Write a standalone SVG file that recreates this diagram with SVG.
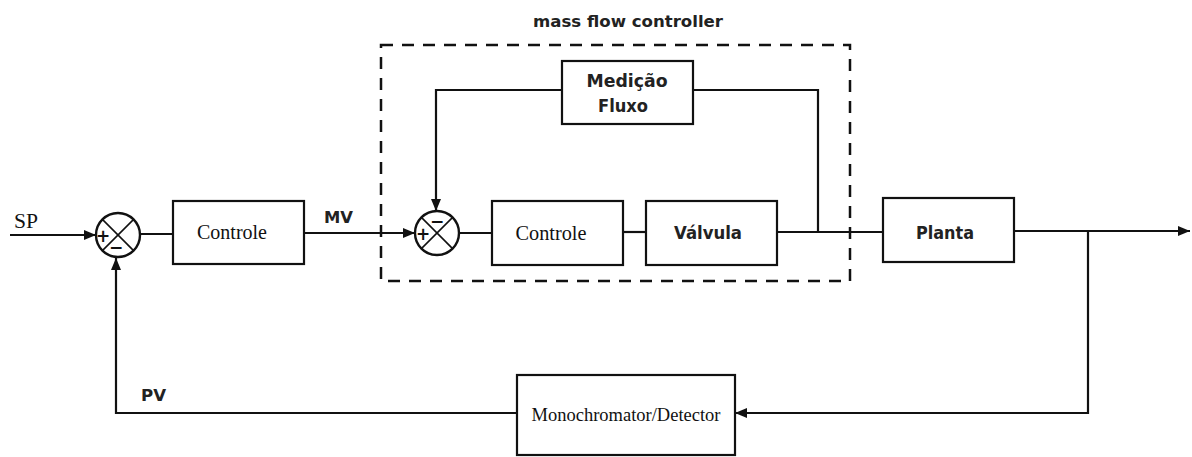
<svg xmlns="http://www.w3.org/2000/svg" width="1192" height="457" viewBox="0 0 1192 457">
<style>
.box{fill:#fff;stroke:#111;stroke-width:2.2}
.ln{fill:none;stroke:#111;stroke-width:2.2}
.sum{fill:#fff;stroke:#111;stroke-width:2.4}
.x{stroke:#111;stroke-width:1.6}
.serif{font-family:"Liberation Serif","Times New Roman",serif;fill:#111}
.sans{font-family:"DejaVu Sans","Verdana",sans-serif;font-weight:bold;fill:#222}
.sign{font-family:"DejaVu Sans",sans-serif;font-weight:bold;fill:#111;font-size:17px}
</style>
<defs>
<marker id="ah" markerWidth="12" markerHeight="10" refX="12" refY="5" orient="auto" markerUnits="userSpaceOnUse">
<path d="M0,0 L12,5 L0,10 Z" fill="#111"/>
</marker>
</defs>

<g id="mfc-boundary">
<rect x="381" y="45" width="469" height="236" fill="none" stroke="#111" stroke-width="2.5" stroke-dasharray="12 9"/>
<text class="sans" x="628" y="27" font-size="15.5" text-anchor="middle" textLength="190" lengthAdjust="spacingAndGlyphs">mass flow controller</text>
</g>

<g id="connectors">
<line class="ln" x1="10" y1="235" x2="96" y2="235" marker-end="url(#ah)"/>
<line class="ln" x1="140" y1="234" x2="173" y2="234"/>
<line class="ln" x1="304" y1="233" x2="415" y2="233" marker-end="url(#ah)"/>
<line class="ln" x1="459" y1="233" x2="492" y2="233"/>
<line class="ln" x1="623" y1="232" x2="646" y2="232"/>
<line class="ln" x1="777" y1="232" x2="883" y2="232"/>
<polyline class="ln" points="818,232 818,90 693,90"/>
<polyline class="ln" points="562,90 436,90 436,211" marker-end="url(#ah)"/>
<line class="ln" x1="1014" y1="231" x2="1190" y2="231" marker-end="url(#ah)"/>
<polyline class="ln" points="1088,231 1088,413 735,413" marker-end="url(#ah)"/>
<polyline class="ln" points="517,413 116,413 116,258" marker-end="url(#ah)"/>
<text class="serif" x="14" y="228" font-size="20" textLength="24" lengthAdjust="spacingAndGlyphs">SP</text>
<text class="sans" x="324" y="223" font-size="16" textLength="29" lengthAdjust="spacingAndGlyphs">MV</text>
<text class="sans" x="141" y="401" font-size="16" textLength="25" lengthAdjust="spacingAndGlyphs">PV</text>
</g>

<g id="sum1">
<circle class="sum" cx="118" cy="235" r="22"/>
<line class="x" x1="102.4" y1="219.4" x2="133.6" y2="250.6"/>
<line class="x" x1="133.6" y1="219.4" x2="102.4" y2="250.6"/>
<text class="sign" x="103" y="242" text-anchor="middle">+</text>
<text class="sign" x="116" y="253" text-anchor="middle">−</text>
</g>

<g id="controle1">
<rect class="box" x="173" y="201" width="131" height="63"/>
<text class="serif" x="232" y="239" font-size="20" text-anchor="middle" textLength="70" lengthAdjust="spacingAndGlyphs">Controle</text>
</g>

<g id="sum2">
<circle class="sum" cx="437" cy="233" r="22"/>
<line class="x" x1="421.4" y1="217.4" x2="452.6" y2="248.6"/>
<line class="x" x1="452.6" y1="217.4" x2="421.4" y2="248.6"/>
<text class="sign" x="423" y="240" text-anchor="middle">+</text>
<text class="sign" x="437" y="227" text-anchor="middle">−</text>
</g>

<g id="medicao">
<rect class="box" x="562" y="61" width="131" height="63"/>
<text class="sans" x="627" y="87" font-size="17" text-anchor="middle" textLength="81" lengthAdjust="spacingAndGlyphs">Medição</text>
<text class="sans" x="623" y="112" font-size="17" text-anchor="middle" textLength="50" lengthAdjust="spacingAndGlyphs">Fluxo</text>
</g>

<g id="controle2">
<rect class="box" x="492" y="201" width="131" height="64"/>
<text class="serif" x="551" y="240" font-size="20" text-anchor="middle" textLength="71" lengthAdjust="spacingAndGlyphs">Controle</text>
</g>

<g id="valvula">
<rect class="box" x="646" y="201" width="131" height="64"/>
<text class="sans" x="708" y="239" font-size="17" text-anchor="middle" textLength="68" lengthAdjust="spacingAndGlyphs">Válvula</text>
</g>

<g id="planta">
<rect class="box" x="883" y="198" width="131" height="64"/>
<text class="sans" x="945" y="239" font-size="17" text-anchor="middle" textLength="58" lengthAdjust="spacingAndGlyphs">Planta</text>
</g>

<g id="monochromator">
<rect class="box" x="517" y="375" width="218" height="80"/>
<text class="serif" x="626" y="421" font-size="18" text-anchor="middle" textLength="189" lengthAdjust="spacingAndGlyphs">Monochromator/Detector</text>
</g>
</svg>
